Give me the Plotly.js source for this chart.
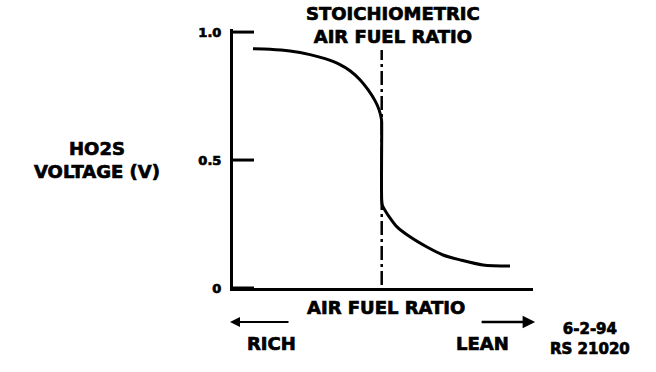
<!DOCTYPE html>
<html>
<head>
<meta charset="utf-8">
<script src="https://cdn.plot.ly/plotly-3.0.1.min.js"></script>
<style>
html,body{margin:0;padding:0;background:#fff;}
#chart{width:656px;height:372px;}
#chart svg text{stroke:#000;stroke-width:0.7px;}
</style>
</head>
<body>
<div id="chart"></div>
<script>
// Air fuel ratio position (arbitrary units along the x axis) and HO2S voltage (V)
const afrPos = [0.667, 1.233, 1.9, 2.567, 3.067, 3.567, 3.9, 4.233, 4.5, 4.733, 4.867, 4.95, 4.957,
                4.957, 4.983, 5.1, 5.233, 5.467, 5.9, 6.467, 7.0, 7.567, 8.333, 9.233];
const voltage = [0.935, 0.933, 0.926, 0.912, 0.896, 0.873, 0.849, 0.814, 0.775, 0.732, 0.697, 0.658, 0.626,
                 0.344, 0.321, 0.297, 0.274, 0.239, 0.2, 0.16, 0.129, 0.11, 0.09, 0.086];
const stoichX = [4.957, 4.957];
const stoichY = [0.012, 0.93];
const yTickVals = [0, 0.5, 1.0];
const yTickText = ["0", "0.5", "1.0"];

const F = "DejaVu Sans, Liberation Sans, sans-serif";
const big = {family: F, size: 18, color: "#000", weight: "bold"};

const data = [
  {x: afrPos, y: voltage, type: "scatter", mode: "lines",
   line: {color: "#000", width: 3, shape: "spline", smoothing: 0.8}, hoverinfo: "skip"},
  {x: stoichX, y: stoichY, type: "scatter", mode: "lines",
   line: {color: "#000", width: 2.5, dash: "14px,4px,3px,4px"}, hoverinfo: "skip"}
];

// inside tick marks on the voltage axis, placed through the y scale
const tickShapes = yTickVals.map(v => ({
  type: "line", xref: "paper", yref: "y", x0: 0, x1: 0.07, y0: v, y1: v,
  layer: "above", line: {color: "#000", width: 3}
}));

const layout = {
  width: 656, height: 372,
  margin: {l: 233, r: 123, t: 29, b: 84},
  paper_bgcolor: "#fff", plot_bgcolor: "#fff",
  showlegend: false,
  xaxis: {range: [0, 10], showline: true, linecolor: "#000", linewidth: 3,
          showgrid: false, zeroline: false, showticklabels: false, ticks: "", fixedrange: true},
  yaxis: {range: [0, 1.012], showline: true, linecolor: "#000", linewidth: 3,
          showgrid: false, zeroline: false, tickvals: yTickVals, ticktext: yTickText,
          ticks: "", tickfont: {family: F, size: 13, color: "#000", weight: "bold"},
          ticklabelstandoff: 6, fixedrange: true},
  shapes: tickShapes,
  annotations: [
    {text: "STOICHIOMETRIC<br>AIR FUEL RATIO", xref: "paper", yref: "paper",
     x: 0.533, y: 1.017, xanchor: "center", yanchor: "middle", showarrow: false, font: big},
    {text: "HO2S<br>VOLTAGE (V)", xref: "paper", yref: "paper",
     x: -0.455, y: 0.494, xanchor: "center", yanchor: "middle", showarrow: false, font: big},
    {text: "AIR FUEL RATIO", xref: "paper", yref: "paper",
     x: 0.51, y: -0.077, xanchor: "center", yanchor: "middle", showarrow: false, font: big},
    {text: "RICH", xref: "paper", yref: "paper",
     x: 0.127, y: -0.216, xanchor: "center", yanchor: "middle", showarrow: false, font: big},
    {text: "LEAN", xref: "paper", yref: "paper",
     x: 0.833, y: -0.216, xanchor: "center", yanchor: "middle", showarrow: false, font: big},
    {text: "6-2-94<br>RS 21020", xref: "paper", yref: "paper",
     x: 1.19, y: -0.197, xanchor: "center", yanchor: "middle", showarrow: false,
     font: {family: F, size: 15, color: "#000", weight: "bold"}},
    {text: "", xref: "paper", yref: "paper", x: -0.01, y: -0.131,
     showarrow: true, ax: 60, ay: 0, arrowhead: 2, arrowsize: 1, arrowwidth: 2, arrowcolor: "#000"},
    {text: "", xref: "paper", yref: "paper", x: 1.007, y: -0.131,
     showarrow: true, ax: -55, ay: 0, arrowhead: 2, arrowsize: 1, arrowwidth: 2.5, arrowcolor: "#000"}
  ]
};

Plotly.newPlot("chart", data, layout, {displayModeBar: false, staticPlot: true});
</script>
</body>
</html>
